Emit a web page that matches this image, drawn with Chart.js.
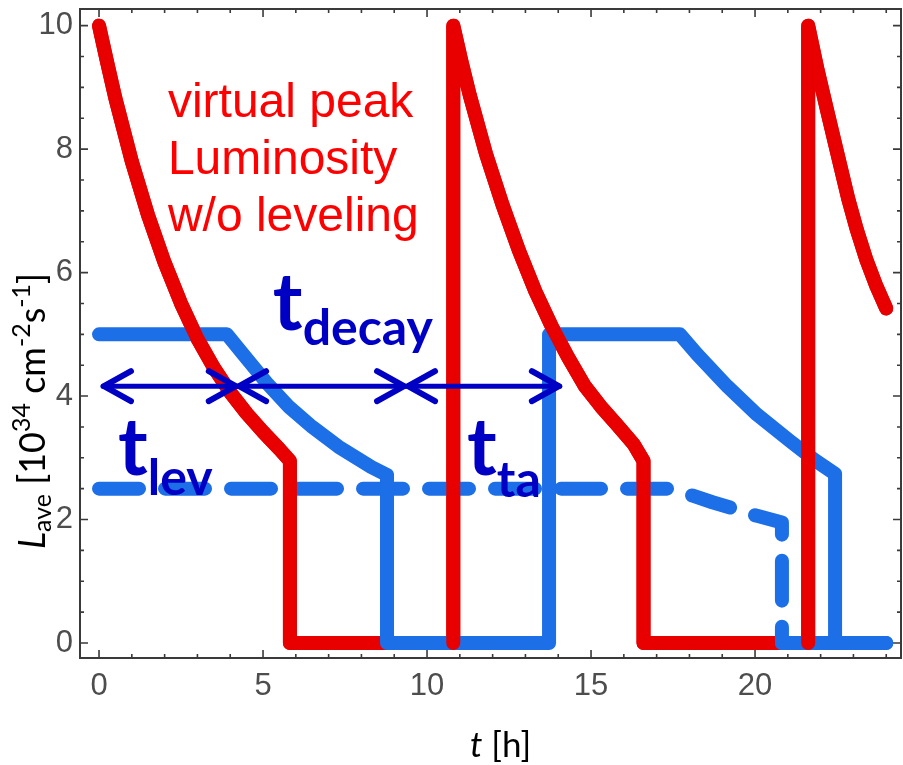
<!DOCTYPE html>
<html><head><meta charset="utf-8">
<script src="https://cdn.jsdelivr.net/npm/chart.js@4.4.1/dist/chart.umd.min.js"></script>
<style>html,body{margin:0;padding:0;background:#fff}canvas{display:block}</style>
</head><body>
<canvas id="c" width="903" height="765"></canvas>
<script>
// ---- data (hours, 10^34 cm^-2 s^-1) ----
const redT = [0, 0.25, 0.5, 1.0, 1.5, 2.0, 2.5, 3.0, 3.5, 4.0, 4.5, 5.0, 5.5, 5.82, 5.82,
              10.8, 10.8, 11.05, 11.3, 11.8, 12.3, 12.8, 13.3, 13.8, 14.3, 14.8, 15.3, 15.8, 16.3, 16.6, 16.6,
              21.62, 21.62, 21.9, 22.2, 22.5, 22.84, 23.1, 23.4, 23.7, 24.0];
const redL = [10, 9.4, 8.82, 7.8, 6.92, 6.16, 5.5, 4.93, 4.46, 4.06, 3.72, 3.42, 3.14, 2.95, 0,
              0, 10, 9.42, 8.88, 7.92, 7.1, 6.36, 5.7, 5.13, 4.63, 4.17, 3.83, 3.53, 3.22, 2.95, 0,
              0, 10, 9.3, 8.62, 7.95, 7.2, 6.7, 6.2, 5.78, 5.42];
const blueT = [0, 3.9, 4.36, 5.15, 5.8, 6.5, 7.3, 8.3, 8.78, 8.78,
               13.72, 13.72, 17.71, 18.23, 19.15, 20.06, 21.07, 21.8, 22.44, 22.44, 24.0];
const blueL = [5, 5, 4.7, 4.19, 3.82, 3.5, 3.18, 2.85, 2.72, 0,
               0, 5, 5, 4.68, 4.16, 3.7, 3.27, 2.97, 2.74, 0, 0];
const levT = [0, 17.4, 18.08, 18.7, 19.33, 20.06, 20.82, 20.82, 24.0];
const levL = [2.5, 2.5, 2.39, 2.28, 2.18, 2.06, 1.95, 0, 0];
const xTicks = [0, 5, 10, 15, 20];
const yTicks = [0, 2, 4, 6, 8, 10];
const arrowFrom = [0.12, 4.24, 9.39];
const arrowTo = [4.2, 9.33, 14.05];
const arrowLevel = 4.16;
const peakText = ['virtual peak', 'Luminosity', 'w/o leveling'];
const intervalNames = ['lev', 'decay', 'ta'];

// ---- styling ----
const RED = '#e80000', BLUE = '#1c6fe6', NAVY = '#0000c4';
const pts = (xs, ys) => xs.map((v, i) => ({x: v, y: ys[i]}));
const isZero = c => c.p0.parsed.y === 0 && c.p1.parsed.y === 0;
const lineBase = {showLine: true, pointRadius: 0, borderWidth: 14, borderCapStyle: 'round',
                  borderJoinStyle: 'round', tension: 0, fill: false};

const deco = {
  id: 'deco',
  beforeDatasetsDraw(chart) {
    const {ctx, chartArea: a, scales: {x, y}} = chart;
    ctx.save();
    ctx.strokeStyle = '#3a3a3a';
    ctx.lineWidth = 2;
    ctx.strokeRect(a.left, a.top, a.right - a.left, a.bottom - a.top);
    ctx.lineWidth = 1.6;
    ctx.beginPath();
    for (let v = 0; v <= 24; v += 1) {
      const p = x.getPixelForValue(v), len = v % 5 === 0 ? 8 : 4;
      ctx.moveTo(p, a.bottom); ctx.lineTo(p, a.bottom - len);
      ctx.moveTo(p, a.top); ctx.lineTo(p, a.top + len);
    }
    for (let v = 0; v <= 10; v += 0.5) {
      const p = y.getPixelForValue(v), len = v % 2 === 0 ? 8 : 4;
      ctx.moveTo(a.left, p); ctx.lineTo(a.left + len, p);
      ctx.moveTo(a.right, p); ctx.lineTo(a.right - len, p);
    }
    ctx.stroke();
    ctx.restore();
  },
  afterDatasetsDraw(chart) {
    const {ctx, scales: {x, y}} = chart;
    ctx.save();
    // red annotation
    ctx.fillStyle = '#ff0000';
    ctx.font = '48px "Liberation Sans", Arial, sans-serif';
    ctx.textBaseline = 'alphabetic';
    ctx.textAlign = 'left';
    const rx = x.getPixelForValue(2.1), ry = y.getPixelForValue(8.52);
    peakText.forEach((s, i) => ctx.fillText(s, rx, ry + i * 57));
    // arrows
    ctx.strokeStyle = NAVY; ctx.lineCap = 'round'; ctx.lineJoin = 'round';
    const ay = y.getPixelForValue(arrowLevel);
    arrowFrom.forEach((f, i) => {
      const x1 = x.getPixelForValue(f), x2 = x.getPixelForValue(arrowTo[i]);
      ctx.lineWidth = 5;
      ctx.beginPath(); ctx.moveTo(x1, ay); ctx.lineTo(x2, ay); ctx.stroke();
      ctx.lineWidth = 6;
      ctx.beginPath();
      ctx.moveTo(x1 + 28, ay - 15); ctx.lineTo(x1 + 1, ay); ctx.lineTo(x1 + 28, ay + 15);
      ctx.moveTo(x2 - 28, ay - 15); ctx.lineTo(x2 - 1, ay); ctx.lineTo(x2 - 28, ay + 15);
      ctx.stroke();
    });
    // interval labels
    const spots = {lev: [0.58, 2.72, 2.40], decay: [5.30, 5.07, 4.83], ta: [11.22, 2.72, 2.36]};
    ctx.fillStyle = NAVY;
    intervalNames.forEach(n => {
      const [t, L, subL] = spots[n];
      const px = x.getPixelForValue(t);
      ctx.font = 'bold 80px Lato, "Open Sans", sans-serif';
      ctx.fillText('t', px, y.getPixelForValue(L));
      const w = ctx.measureText('t').width;
      ctx.font = 'bold 50px Lato, "Open Sans", sans-serif';
      ctx.fillText(n, px + w, y.getPixelForValue(subL));
    });
    ctx.restore();
  },
  afterDraw(chart) {
    const {ctx} = chart;
    ctx.save();
    ctx.fillStyle = '#000';
    ctx.textBaseline = 'alphabetic';
    ctx.textAlign = 'left';
    // y title (rotated)
    const big = '36px Lato, sans-serif', small = '25px Lato, sans-serif';
    const parts = [
      ['L', 'italic ' + big, 0], ['ave', small, 6], [' [10', big, 0], ['34', small, -15],
      [' cm', big, 0], ['-2', small, -15], ['s', big, 0], ['-1', small, -15], [']', big, 0]
    ];
    let total = 0;
    parts.forEach(p => { ctx.font = p[1]; total += ctx.measureText(p[0]).width; });
    ctx.translate(45, 411 + total / 2);
    ctx.rotate(-Math.PI / 2);
    let cx = 0;
    parts.forEach(p => { ctx.font = p[1]; ctx.fillText(p[0], cx, p[2]); cx += ctx.measureText(p[0]).width; });
    ctx.setTransform(1, 0, 0, 1, 0, 0);
    // x title
    ctx.font = 'italic 35px Lato, sans-serif';
    ctx.fillText('t', 470, 757);
    const tw = ctx.measureText('t').width;
    ctx.font = '35px Lato, sans-serif';
    ctx.fillText(' [h]', 470 + tw, 757);
    ctx.restore();
  }
};

const tickFont = {family: '"Liberation Sans", Arial, sans-serif', size: 31};
new Chart(document.getElementById('c'), {
  type: 'scatter',
  data: {
    datasets: [
      Object.assign({}, lineBase, {data: pts(redT, redL), borderColor: RED,
        segment: {borderColor: c => isZero(c) ? 'rgba(0,0,0,0)' : RED}}),
      Object.assign({}, lineBase, {data: pts(blueT, blueL), borderColor: BLUE}),
      Object.assign({}, lineBase, {data: pts(levT, levL), borderColor: BLUE, borderDash: [40, 26],
        segment: {borderDash: c => isZero(c) ? [] : [40, 26]}}),
      Object.assign({}, lineBase, {data: pts(redT, redL), borderColor: RED})
    ]
  },
  options: {
    responsive: false,
    animation: false,
    events: [],
    layout: {padding: {top: 9, right: 2, left: 0, bottom: 0}},
    plugins: {legend: {display: false}, tooltip: {enabled: false}, title: {display: false}},
    scales: {
      x: {
        type: 'linear', min: -0.58, max: 24.45,
        afterBuildTicks: s => { s.ticks = xTicks.map(v => ({value: v})); },
        afterFit: s => { s.height = 107; s.paddingLeft = 0; s.paddingRight = 0; },
        grid: {display: false, drawTicks: false},
        border: {display: false},
        ticks: {padding: 10, font: tickFont, color: '#4d4d4d', maxRotation: 0, autoSkip: false}
      },
      y: {
        type: 'linear', min: -0.243, max: 10.27,
        afterBuildTicks: s => { s.ticks = yTicks.map(v => ({value: v})); },
        afterFit: s => { s.width = 80; s.paddingTop = 0; s.paddingBottom = 0; },
        grid: {display: false, drawTicks: false},
        border: {display: false},
        ticks: {padding: 7, font: tickFont, color: '#4d4d4d', autoSkip: false}
      }
    }
  },
  plugins: [deco]
});
</script>
</body></html>
